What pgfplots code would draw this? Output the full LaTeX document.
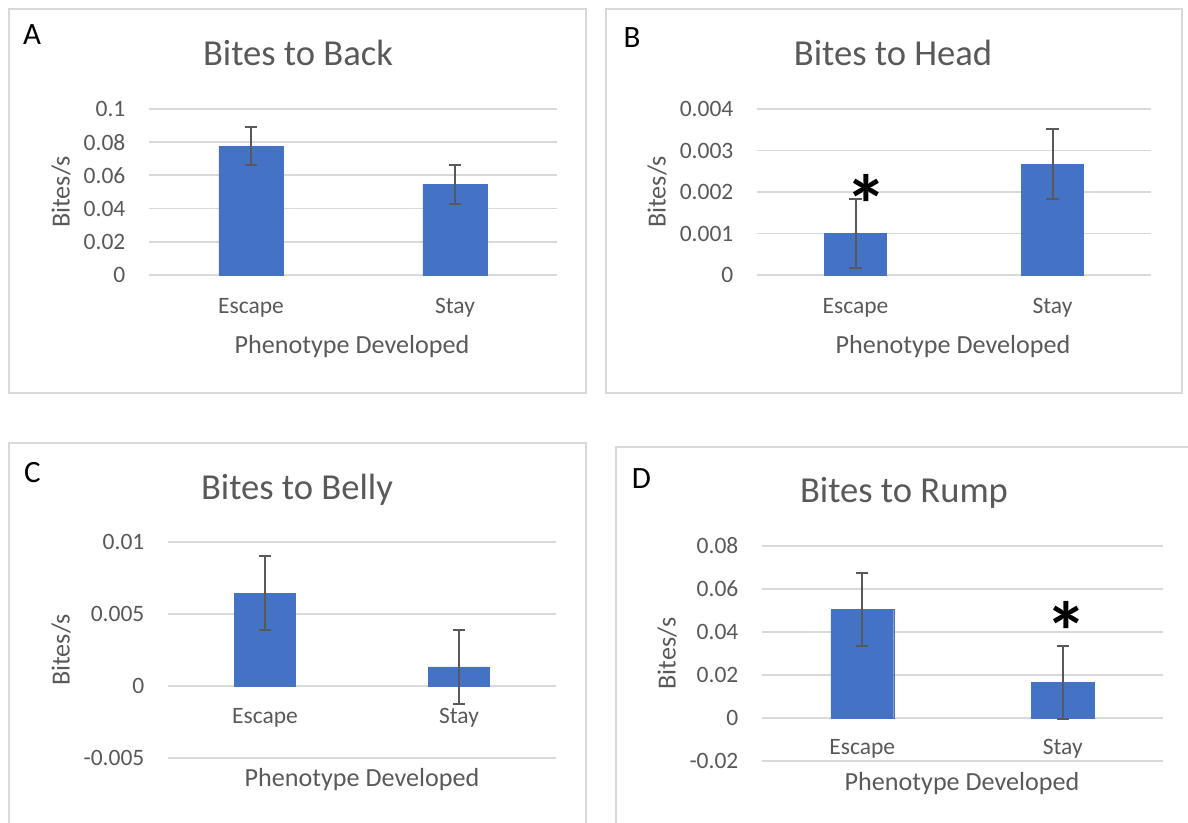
\documentclass[border=0pt]{standalone}
\usepackage{pgfplots}
\pgfplotsset{compat=1.18}
\usepackage{fontspec}
\setmainfont{Carlito}
\definecolor{txt}{HTML}{595959}
\definecolor{grd}{HTML}{D9D9D9}
\definecolor{barc}{HTML}{4472C4}
\definecolor{errc}{HTML}{595959}
\pgfplotsset{
  panel/.style={
    scale only axis,
    anchor=south west,
    xmin=-0.5, xmax=1.5,
    xtick={0,1}, xticklabels={Escape,Stay},
    axis line style={draw=none},
    major tick length=0pt,
    ymajorgrids,
    grid style={draw=grd, line width=0.9pt},
    tick label style={font=\fontsize{11.75}{14}\selectfont, text=txt},
    yticklabel style={anchor=east, inner sep=0pt, xshift=-11.6pt},
    xticklabel style={anchor=base, inner sep=0pt},
    /pgf/number format/assume math mode=true,
    scaled y ticks=false,
    ybar, bar width=0.314,
    clip=false,
  },
  barstyle/.style={fill=barc, draw=barc, line width=0.1pt,
    error bars/.cd, y dir=both, y explicit,
    error bar style={draw=errc, line width=1pt},
    error mark options={rotate=90, mark size=3.1pt, line width=1pt, draw=errc}},
}
\newcommand{\ttl}{\fontsize{18.3}{22}\selectfont}
\newcommand{\alab}{\fontsize{13.06}{16}\selectfont}
\newcommand{\plet}{\fontsize{15.5}{18}\selectfont}
\newcommand{\sigast}{\fontsize{42}{46}\selectfont\bfseries *}
\begin{document}
\begin{tikzpicture}[x=0.5pt,y=0.5pt]
\path[use as bounding box] (0,0) rectangle (1188,823);
% panel borders
\draw[grd, line width=1pt] (9,814) rectangle (586,430);
\draw[grd, line width=1pt] (606,814) rectangle (1182,430);
\draw[grd, line width=1pt] (9,380) rectangle (586,-10);
\draw[grd, line width=1pt] (616,376) rectangle (1200,-10);

% Panel A
\begin{axis}[panel, at={(74.5pt,274pt)}, width=204pt, height=83pt,
  ymin=0, ymax=0.1, ytick={0,0.02,0.04,0.06,0.08,0.1},
  yticklabels={0,0.02,0.04,0.06,0.08,0.1},
  xticklabel style={yshift=-19.15pt}]
\addplot[barstyle] coordinates {(0,0.0777) +- (0,0.0115) (1,0.0545) +- (0,0.0117)};
\end{axis}

% Panel B
\begin{axis}[panel, at={(378.5pt,274pt)}, width=197pt, height=83pt,
  ymin=0, ymax=0.004, ytick={0,0.001,0.002,0.003,0.004},
  yticklabels={0,0.001,0.002,0.003,0.004},
  xticklabel style={yshift=-19.5pt}]
\addplot[barstyle] coordinates {(0,0.0010) +- (0,0.00083) (1,0.00267) +- (0,0.00084)};
\node[anchor=north, inner sep=0pt, text=black] at (axis cs:0.053,0.00243) {\sigast};
\end{axis}

% Panel C
\begin{axis}[panel, at={(84pt,32.65pt)}, width=194pt, height=107.7pt,
  ymin=-0.005, ymax=0.01, ytick={-0.005,0,0.005,0.01},
  yticklabels={-0.005,0,0.005,0.01},
  xticklabel style={yshift=16.85pt}]
\addplot[barstyle] coordinates {(0,0.00646) +- (0,0.00258) (1,0.00133) +- (0,0.00256)};
\end{axis}

% Panel D
\begin{axis}[panel, at={(381pt,31pt)}, width=200.5pt, height=107.5pt,
  ymin=-0.02, ymax=0.08, ytick={-0.02,0,0.02,0.04,0.06,0.08},
  yticklabels={-0.02,0,0.02,0.04,0.06,0.08},
  xticklabel style={yshift=3pt}]
\addplot[barstyle] coordinates {(0,0.0505) +- (0,0.0170) (1,0.0165) +- (0,0.0170)};
\node[anchor=north, inner sep=0pt, text=black] at (axis cs:1.016,0.0544) {\sigast};
\end{axis}

% titles
\node[anchor=base, text=txt, inner sep=0pt] at (298,757) {\ttl Bites to Back};
\node[anchor=base, text=txt, inner sep=0pt] at (893,757) {\ttl Bites to Head};
\node[anchor=base, text=txt, inner sep=0pt] at (297,323.7) {\ttl Bites to Belly};
\node[anchor=base, text=txt, inner sep=0pt] at (904,320.3) {\ttl Bites to Rump};
% x labels
\node[anchor=base, text=txt, inner sep=0pt] at (352,469) {\alab Phenotype Developed};
\node[anchor=base, text=txt, inner sep=0pt] at (953,469) {\alab Phenotype Developed};
\node[anchor=base, text=txt, inner sep=0pt] at (362,36.3) {\alab Phenotype Developed};
\node[anchor=base, text=txt, inner sep=0pt] at (962,32.3) {\alab Phenotype Developed};
% y labels
\node[rotate=90, text=txt, inner sep=0pt] at (61,631) {\alab Bites/s};
\node[rotate=90, text=txt, inner sep=0pt] at (657,631) {\alab Bites/s};
\node[rotate=90, text=txt, inner sep=0pt] at (61,173) {\alab Bites/s};
\node[rotate=90, text=txt, inner sep=0pt] at (667,169.5) {\alab Bites/s};
% panel letters
\node[anchor=base, inner sep=0pt] at (32,778) {\plet A};
\node[anchor=base, inner sep=0pt] at (632,775) {\plet B};
\node[anchor=base, inner sep=0pt] at (32.5,340) {\plet C};
\node[anchor=base, inner sep=0pt] at (641.5,334.7) {\plet D};
\end{tikzpicture}
\end{document}
